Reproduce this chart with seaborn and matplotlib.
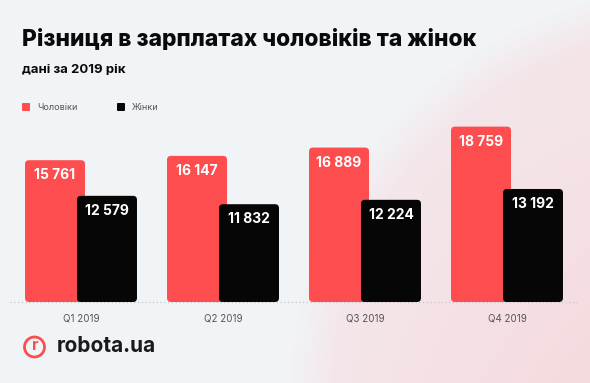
import numpy as np
import pandas as pd
import matplotlib.pyplot as plt
import seaborn as sns
from matplotlib.patches import FancyBboxPatch, Circle

# data
quarters = ["Q1 2019", "Q2 2019", "Q3 2019", "Q4 2019"]
men = [15761, 16147, 16889, 18759]
women = [12579, 11832, 12224, 13192]
groups = ["Чоловіки", "Жінки"]
colors = ["#fd4d4f", "#060606"]

df = pd.DataFrame({
    "quarter": quarters * 2,
    "salary": men + women,
    "sex": [groups[0]] * len(men) + [groups[1]] * len(women),
})

W, H = 590, 383


def fx(x):
    return x / W


def fy(y):
    return 1 - y / H


sns.set_theme(style="white")
plt.rcParams['font.family'] = ['Inter', 'DejaVu Sans']

fig = plt.figure(figsize=(W / 100, H / 100), dpi=100)
fig.patch.set_facecolor("#f1f4f7")

# soft pink blob in the background
bg = fig.add_axes([0, 0, 1, 1], zorder=0)
yy, xx = np.mgrid[0:H, 0:W]
d = np.hypot(xx - 690, yy - 390)
t = np.clip((405 - d) / 50, 0, 1) * (0.45 + 0.55 * np.clip((xx - 280) / 310, 0, 1) * np.clip(yy / 383, 0.3, 1))
base = np.array([241, 244, 247]) / 255
pink = np.array([246, 218, 222]) / 255
img = base + t[..., None] * (pink - base)
bg.imshow(img, extent=[0, W, H, 0], aspect="auto")
bg.axis("off")

# main bars
ax_left, ax_right, ax_bottom, ax_top = 10, 578, 302, 110
ax = fig.add_axes([fx(ax_left), fy(ax_bottom), (ax_right - ax_left) / W, (ax_bottom - ax_top) / H], zorder=1)
ax.patch.set_alpha(0)

sns.barplot(data=df, x="quarter", y="salary", hue="sex", palette=colors,
            width=0.732, saturation=1, legend=False, ax=ax)

ymin = 3100
px_per_y = 0.0112
ymax = ymin + (ax_bottom - ax_top) / px_per_y
ax.set_ylim(ymin, ymax)
ax.set_xlim(-0.5, len(quarters) - 0.5)
px_per_x = (ax_right - ax_left) / len(quarters)

# widen the dodged bars so the black one overlaps the red one, round the corners
bar_w = 60 / px_per_x
aspect = (1 / px_per_y) * px_per_x
old = list(ax.patches)
for i, p in enumerate(old):
    cx = p.get_x() + p.get_width() / 2
    top = p.get_y() + p.get_height()
    fc = p.get_facecolor()
    p.remove()
    box = FancyBboxPatch((cx - bar_w / 2, ymin), bar_w, top - ymin,
                         boxstyle=f"round,pad=0,rounding_size={4 / px_per_x}",
                         mutation_aspect=aspect, facecolor=fc, edgecolor="none",
                         zorder=2 + i)
    ax.add_patch(box)
    ax.text(cx, top - 15 / px_per_y, f"{int(round(top)):,}".replace(",", " "),
            ha="center", va="center", color="white", fontsize=10,
            fontweight="bold", zorder=20)

ax.axhline(ymin, color="#c4c4c8", lw=0.9, ls=(0, (1, 2)), zorder=1, clip_on=False)
sns.despine(ax=ax, left=True, bottom=True)
ax.set_yticks([])
ax.set_xlabel("")
ax.set_ylabel("")
ax.tick_params(axis="x", length=0, pad=8, labelsize=7, labelcolor="#555555")

# titles
fig.text(fx(22), fy(40), "Різниця в зарплатах чоловіків та жінок", fontsize=16.4,
         fontweight="heavy", color="#0a0a0a", va="center", ha="left")
fig.text(fx(22), fy(70), "дані за 2019 рік", fontsize=9.5, fontweight="bold",
         color="#0a0a0a", va="center", ha="left")

# legend
for x0, lab, c in [(22, groups[0], colors[0]), (117, groups[1], colors[1])]:
    fig.patches.append(FancyBboxPatch((fx(x0), fy(111)), 8 / W, 8 / H,
                                      boxstyle="round,pad=0,rounding_size=0.002",
                                      transform=fig.transFigure, facecolor=c,
                                      edgecolor="none", figure=fig))
    fig.text(fx(x0 + 15), fy(107), lab, fontsize=6.5, color="#555555",
             va="center", ha="left")

# logo
fig.patches.append(Circle((0.345, (H - 347) / 100), 0.10, transform=fig.dpi_scale_trans,
                          facecolor="none", edgecolor=colors[0], lw=2, figure=fig))
fig.text(fx(35), fy(346), "r", fontsize=11.5, fontweight="bold", color=colors[0],
         ha="center", va="center")
fig.text(fx(57), fy(346), "robota.ua", fontsize=15, fontweight="bold",
         color="#1a1a1a", ha="left", va="center")

fig.savefig("out.png", dpi=100, facecolor=fig.get_facecolor())
